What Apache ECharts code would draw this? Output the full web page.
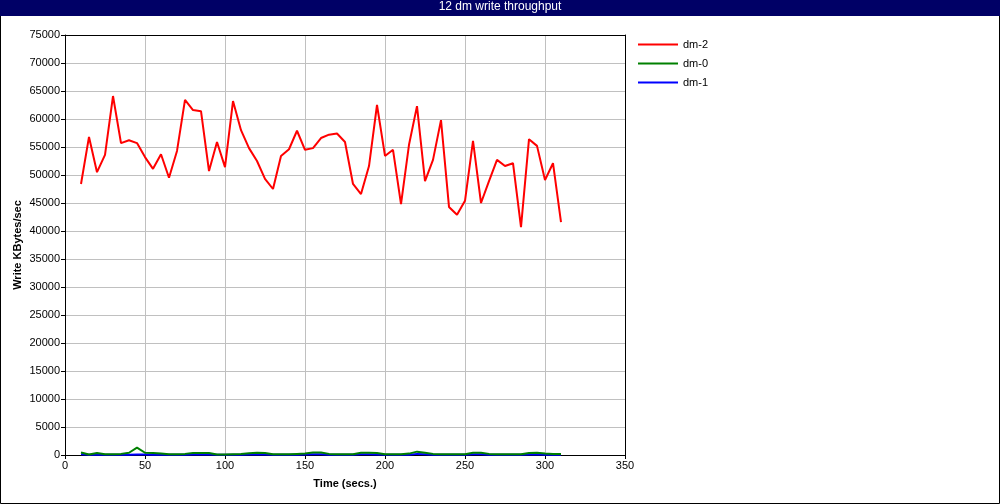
<!DOCTYPE html>
<html><head><meta charset="utf-8">
<script src="https://cdn.jsdelivr.net/npm/echarts@6/dist/echarts.min.js"></script>
<style>html,body{margin:0;padding:0;background:#fff}#c{width:1000px;height:504px}</style>
</head><body><div id="c"></div>
<script>
const times = [10,15,20,25,30,35,40,45,50,55,60,65,70,75,80,85,90,95,100,105,110,115,120,125,130,135,140,145,150,155,160,165,170,175,180,185,190,195,200,205,210,215,220,225,230,235,240,245,250,255,260,265,270,275,280,285,290,295,300,305,310];
const dm2 = [48400,56800,50500,53600,64100,55700,56200,55700,53200,51100,53700,49500,54300,63400,61600,61400,50700,55900,51400,63200,58000,54800,52500,49300,47500,53400,54600,57900,54500,54800,56600,57200,57400,55900,48400,46600,51600,62500,53400,54500,44800,55400,62300,48900,52700,59800,44300,42900,45400,56100,45000,48900,52700,51600,52100,40700,56400,55200,49100,52100,41600];
const dm0 = [450,100,350,150,150,200,400,1300,400,350,250,150,150,200,350,350,350,100,100,150,200,300,400,350,150,150,150,200,250,450,450,200,150,150,150,400,400,350,150,150,150,250,600,400,200,150,150,150,150,400,400,200,150,150,150,150,350,400,250,200,200];
const dm1 = [150,50,100,50,50,50,50,100,100,50,50,50,50,50,100,100,100,50,50,50,50,100,150,100,50,50,50,50,100,150,150,50,50,50,50,150,150,100,50,50,50,50,200,150,50,50,50,50,50,150,150,50,50,50,50,50,100,150,50,50,50];
const xTicks = [0,50,100,150,200,250,300,350];
const yMax = 75000;

const pairs = arr => times.map((t,i)=>[t,arr[i]]);
const FONT = 'Liberation Sans, Arial, sans-serif';
const chart = echarts.init(document.getElementById('c'), null, {renderer:'canvas'});
const frameAxis = {show:true, z:5, axisLine:{show:true, onZero:false, lineStyle:{color:'#000', width:1}}, axisTick:{show:false}, axisLabel:{show:false}, splitLine:{show:false}};
chart.setOption({
  animation:false,
  backgroundColor:'#fff',
  graphic:[
    {type:'rect', shape:{x:0.5,y:0.5,width:999,height:503}, style:{fill:'none',stroke:'#000',lineWidth:1}, z:0},
    {type:'rect', shape:{x:0,y:0,width:1000,height:16}, style:{fill:'#000066'}, z:1},
    {type:'text', left:'center', top:1, style:{text:'12 dm write throughput', fill:'#fff', font:'12px '+FONT}, z:2}
  ],
  grid:{left:65, top:35, width:560, height:420, show:false, containLabel:false, outerBoundsMode:'none'},
  legend:{
    orient:'vertical', left:633, top:34, icon:'rect', itemWidth:40, itemHeight:2, itemGap:8,
    data:['dm-2','dm-0','dm-1'],
    textStyle:{fontFamily:FONT, fontSize:11, color:'#000'}
  },
  xAxis:[{
    type:'value', min:0, max:350, interval:50,
    name:'Time (secs.)', nameLocation:'middle', nameGap:23, nameMoveOverlap:false,
    nameTextStyle:{fontFamily:FONT, fontSize:11, fontWeight:'bold', color:'#000'},
    axisLine:{show:true, onZero:false, lineStyle:{color:'#000', width:1}},
    axisTick:{show:true, length:4, lineStyle:{color:'#000'}},
    axisLabel:{fontFamily:FONT, fontSize:11, color:'#000', margin:5, formatter:v=>String(v)},
    splitLine:{show:true, lineStyle:{color:'#c0c0c0', width:1}}
  }, Object.assign({type:'value', min:0, max:350, position:'top'}, frameAxis)],
  yAxis:[{
    type:'value', min:0, max:yMax, interval:5000,
    name:'Write KBytes/sec', nameLocation:'middle', nameGap:42, nameMoveOverlap:false,
    nameTextStyle:{fontFamily:FONT, fontSize:11, fontWeight:'bold', color:'#000'},
    axisLine:{show:true, onZero:false, lineStyle:{color:'#000', width:1}},
    axisTick:{show:true, length:4, lineStyle:{color:'#000'}},
    axisLabel:{fontFamily:FONT, fontSize:11, color:'#000', margin:5, formatter:v=>String(v)},
    splitLine:{show:true, lineStyle:{color:'#c0c0c0', width:1}}
  }, Object.assign({type:'value', min:0, max:yMax, position:'right'}, frameAxis)],
  series:[
    {name:'dm-1', type:'line', data:pairs(dm1), showSymbol:false, lineStyle:{color:'#0000ff', width:2}, itemStyle:{color:'#0000ff'}},
    {name:'dm-0', type:'line', data:pairs(dm0), showSymbol:false, lineStyle:{color:'#008000', width:2}, itemStyle:{color:'#008000'}},
    {name:'dm-2', type:'line', data:pairs(dm2), showSymbol:false, lineStyle:{color:'#ff0000', width:2}, itemStyle:{color:'#ff0000'}}
  ]
});
</script></body></html>
